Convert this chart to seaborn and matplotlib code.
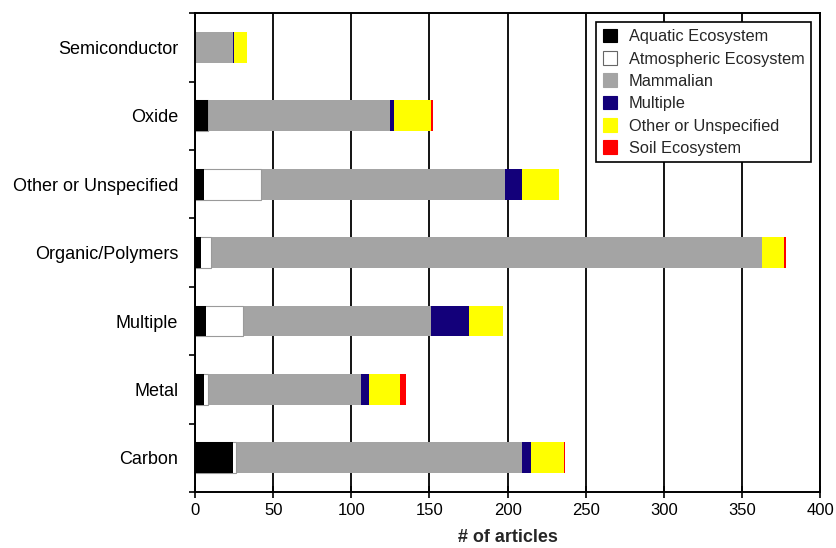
import numpy as np
import pandas as pd
import matplotlib
matplotlib.use("Agg")
import matplotlib.pyplot as plt
from matplotlib.patches import Patch
import seaborn as sns

categories = ["Semiconductor", "Oxide", "Other or Unspecified", "Organic/Polymers",
              "Multiple", "Metal", "Carbon"]
aquatic = [0, 8, 6, 4, 7, 6, 24]
atmospheric = [0, 0, 36, 6, 24, 2, 2]
mammalian = [24, 117, 156, 353, 120, 98, 183]
multiple = [1, 2, 11, 0, 24, 5, 6]
other = [8, 24, 24, 14, 22, 20, 21]
soil = [0, 1, 0, 1, 0, 4, 1]

series_names = ["Aquatic Ecosystem", "Atmospheric Ecosystem", "Mammalian", "Multiple",
                "Other or Unspecified", "Soil Ecosystem"]
series_values = [aquatic, atmospheric, mammalian, multiple, other, soil]
series_colors = ["#000000", "#ffffff", "#a4a4a4", "#13007a", "#ffff00", "#ff0000"]
series_edges = ["none", "#9a9a9a", "none", "none", "none", "none"]
xticks = [0, 50, 100, 150, 200, 250, 300, 350, 400]

sns.set_theme(style="white")
plt.rcParams['font.family'] = ['Liberation Sans', 'DejaVu Sans']

fig = plt.figure(figsize=(8.37, 5.48), dpi=100)
ax = fig.add_axes([0.233, 0.102, 0.747, 0.874])

df = pd.DataFrame({"category": categories})
cum = np.zeros(len(categories))
cums = []
for vals in series_values:
    cum = cum + np.array(vals, dtype=float)
    cums.append(cum.copy())

# draw from the full stack down so each shorter cumulative bar sits on top
for i in range(len(series_values) - 1, -1, -1):
    df["value"] = cums[i]
    sns.barplot(data=df, x="value", y="category", orient="h", color=series_colors[i],
                saturation=1, width=0.45, ax=ax,
                edgecolor=series_edges[i], linewidth=0.8 if series_edges[i] != "none" else 0)

ax.set_xlim(0, 400)
ax.set_ylim(6.5, -0.5)
ax.set_xticks(xticks)
ax.set_xticklabels([str(t) for t in xticks])
ax.set_axisbelow(True)
ax.xaxis.grid(True, color="black", linewidth=1.3)
ax.yaxis.grid(False)

ax.set_yticks(range(len(categories)))
ax.set_yticklabels(categories)
ax.set_yticks(np.arange(-0.5, len(categories), 1.0), minor=True)
ax.tick_params(axis="y", which="major", length=0, labelsize=13, pad=12, colors="black")
ax.tick_params(axis="y", which="minor", length=4, width=1.2, direction="out", color="black", left=True)
ax.tick_params(axis="x", which="major", length=8, width=1.2, direction="inout",
               labelsize=12, colors="black", bottom=True, pad=4)

for s in ax.spines.values():
    s.set_visible(True)
    s.set_color("black")
    s.set_linewidth(1.4)

ax.set_ylabel("")
ax.set_xlabel("# of articles", fontsize=13, fontweight="bold", labelpad=8)

handles = [Patch(facecolor=c, edgecolor=("#666666" if c == "#ffffff" else c), linewidth=0.8)
           for c in series_colors]
leg = ax.legend(handles, series_names, loc="upper right", fontsize=11.8, frameon=True,
                fancybox=False, edgecolor="black", framealpha=1, borderaxespad=0.55,
                handlelength=0.9, handleheight=0.9, handletextpad=0.7, labelspacing=0.42,
                borderpad=0.4)
leg.get_frame().set_linewidth(1.2)

fig.savefig("out.png", dpi=100)
